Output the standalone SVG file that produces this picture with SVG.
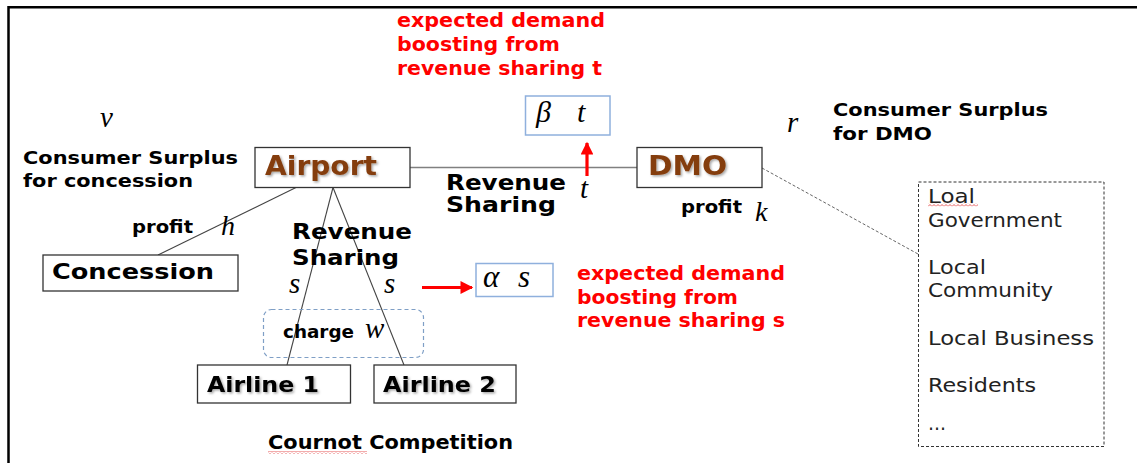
<svg xmlns="http://www.w3.org/2000/svg" width="1137" height="463" viewBox="0 0 1137 463">
<style>
.b{font-family:"DejaVu Sans",sans-serif;font-weight:bold;fill:#000}
.r{font-family:"DejaVu Sans",sans-serif;font-weight:bold;fill:#ff0000}
.brown{fill:#843c0c}
.m{font-family:"Liberation Serif","DejaVu Serif",serif;font-style:italic;fill:#000}
.lst{font-family:"DejaVu Sans",sans-serif;font-size:20px;fill:#222}
.box{fill:#fff;stroke:#333;stroke-width:1.3}
.bbox{fill:#fff;stroke:#8fb0dd;stroke-width:1.5}
.con{stroke:#444;stroke-width:1.1;fill:none}
.red{stroke:#ff0000;stroke-width:3.2;fill:none}
</style>
<defs>
<filter id="sh" x="-10%" y="-20%" width="130%" height="150%">
<feDropShadow dx="1.5" dy="1.5" stdDeviation="0.8" flood-color="#000" flood-opacity="0.35"/>
</filter>
<marker id="ah" viewBox="0 0 10 10" refX="9" refY="5" markerWidth="4.5" markerHeight="4" orient="auto" markerUnits="strokeWidth">
<path d="M0 0 L10 5 L0 10 z" fill="#ff0000"/>
</marker>
<pattern id="sq" width="4" height="3" patternUnits="userSpaceOnUse">
<path d="M0 2.5 L2 0.5 L4 2.5" stroke="#e03030" fill="none" stroke-width="0.8"/>
</pattern>
</defs>
<rect width="1137" height="463" fill="#fff"/>
<path d="M8.5 463 V7.2 H1137" fill="none" stroke="#000" stroke-width="2.5"/>

<g id="connectors">
<line x1="410" y1="167.5" x2="637" y2="167.5" stroke="#808080" stroke-width="1.6"/>
<line class="con" x1="296" y1="187.5" x2="158" y2="255"/>
<line class="con" x1="333" y1="187.5" x2="287" y2="365"/>
<line class="con" x1="333" y1="187.5" x2="404" y2="365"/>
<line x1="762" y1="168" x2="918" y2="254" stroke="#555" stroke-width="0.9" stroke-dasharray="3 2"/>
<line class="red" x1="587" y1="176" x2="587" y2="143" marker-end="url(#ah)"/>
<line class="red" x1="422" y1="287.5" x2="472" y2="287.5" marker-end="url(#ah)"/>
</g>

<g id="airport">
<rect class="box" x="255" y="147.5" width="155" height="40"/>
<text class="b brown" x="265" y="175" font-size="27" textLength="112" lengthAdjust="spacingAndGlyphs" filter="url(#sh)">Airport</text>
</g>
<g id="dmo">
<rect class="box" x="637" y="147.5" width="125" height="40"/>
<text class="b brown" x="648" y="175" font-size="27" textLength="79" lengthAdjust="spacingAndGlyphs" filter="url(#sh)">DMO</text>
</g>
<g id="concession">
<rect class="box" x="43" y="255" width="195" height="36"/>
<text class="b" x="52" y="279" font-size="21" textLength="162" lengthAdjust="spacingAndGlyphs">Concession</text>
</g>
<g id="airline1">
<rect class="box" x="197.5" y="365" width="153" height="38"/>
<text class="b" x="207" y="392" font-size="22" textLength="112" lengthAdjust="spacingAndGlyphs" filter="url(#sh)">Airline 1</text>
</g>
<g id="airline2">
<rect class="box" x="374" y="365" width="142" height="38"/>
<text class="b" x="383" y="392" font-size="22" textLength="113" lengthAdjust="spacingAndGlyphs" filter="url(#sh)">Airline 2</text>
</g>
<g id="beta-t">
<rect class="bbox" x="525.5" y="96" width="84.5" height="39"/>
<text class="m" x="536" y="122" font-size="30">β</text>
<text class="m" x="577" y="122" font-size="30">t</text>
</g>
<g id="alpha-s">
<rect class="bbox" x="476" y="263.5" width="77" height="33"/>
<text class="m" x="483" y="287" font-size="31">α</text>
<text class="m" x="518" y="287" font-size="31">s</text>
</g>
<g id="charge-group">
<rect x="263.5" y="309.5" width="160" height="48" rx="8" fill="none" stroke="#7f9fc6" stroke-width="1.2" stroke-dasharray="4 3"/>
<text class="b" x="283" y="338" font-size="17" textLength="71" lengthAdjust="spacingAndGlyphs">charge</text>
<text class="m" x="365" y="338" font-size="29">w</text>
</g>
<g id="stakeholders">
<rect x="918.5" y="182" width="185.5" height="264.5" fill="none" stroke="#333" stroke-width="1" stroke-dasharray="3 2"/>
<text class="lst" x="928" y="203" textLength="47" lengthAdjust="spacingAndGlyphs">Loal</text>
<rect x="928" y="203.5" width="50" height="3" fill="url(#sq)"/>
<text class="lst" x="928" y="227" textLength="134" lengthAdjust="spacingAndGlyphs">Government</text>
<text class="lst" x="928" y="274" textLength="58" lengthAdjust="spacingAndGlyphs">Local</text>
<text class="lst" x="928" y="297" textLength="125" lengthAdjust="spacingAndGlyphs">Community</text>
<text class="lst" x="928" y="345" textLength="166" lengthAdjust="spacingAndGlyphs">Local Business</text>
<text class="lst" x="928" y="392" textLength="108" lengthAdjust="spacingAndGlyphs">Residents</text>
<text class="lst" x="928" y="430" textLength="18" lengthAdjust="spacingAndGlyphs">…</text>
</g>

<g id="labels">
<text class="r" x="397" y="27" font-size="19.5" textLength="208" lengthAdjust="spacingAndGlyphs">expected demand</text>
<text class="r" x="397" y="51" font-size="19.5" textLength="163" lengthAdjust="spacingAndGlyphs">boosting from</text>
<text class="r" x="397" y="75" font-size="19.5" textLength="205" lengthAdjust="spacingAndGlyphs">revenue sharing t</text>
<text class="r" x="577" y="280" font-size="19.5" textLength="208" lengthAdjust="spacingAndGlyphs">expected demand</text>
<text class="r" x="577" y="304" font-size="19.5" textLength="161" lengthAdjust="spacingAndGlyphs">boosting from</text>
<text class="r" x="577" y="327" font-size="19.5" textLength="208" lengthAdjust="spacingAndGlyphs">revenue sharing s</text>

<text class="m" x="100" y="127" font-size="29">v</text>
<text class="b" x="23" y="164" font-size="17.5" textLength="215" lengthAdjust="spacingAndGlyphs">Consumer Surplus</text>
<text class="b" x="23" y="187" font-size="17.5" textLength="170" lengthAdjust="spacingAndGlyphs">for concession</text>

<text class="m" x="787" y="132" font-size="29">r</text>
<text class="b" x="833" y="116" font-size="17.5" textLength="215" lengthAdjust="spacingAndGlyphs">Consumer Surplus</text>
<text class="b" x="833" y="140" font-size="17.5" textLength="99" lengthAdjust="spacingAndGlyphs">for DMO</text>

<text class="b" x="446" y="190" font-size="21" textLength="120" lengthAdjust="spacingAndGlyphs">Revenue</text>
<text class="b" x="446" y="212" font-size="21" textLength="110" lengthAdjust="spacingAndGlyphs">Sharing</text>
<text class="m" x="580" y="198" font-size="29">t</text>

<text class="b" x="681" y="213" font-size="17" textLength="61" lengthAdjust="spacingAndGlyphs">profit</text>
<text class="m" x="755" y="221" font-size="28">k</text>

<text class="b" x="132" y="233" font-size="17" textLength="61" lengthAdjust="spacingAndGlyphs">profit</text>
<text class="m" x="221" y="235" font-size="28">h</text>

<text class="b" x="292" y="239" font-size="21" textLength="120" lengthAdjust="spacingAndGlyphs">Revenue</text>
<text class="b" x="292" y="265" font-size="21" textLength="107" lengthAdjust="spacingAndGlyphs">Sharing</text>
<text class="m" x="289" y="293" font-size="29">s</text>
<text class="m" x="384" y="293" font-size="29">s</text>

<text class="b" x="268" y="449" font-size="20" textLength="245" lengthAdjust="spacingAndGlyphs">Cournot Competition</text>
<rect x="268" y="451" width="99" height="3" fill="url(#sq)"/>
</g>
</svg>
